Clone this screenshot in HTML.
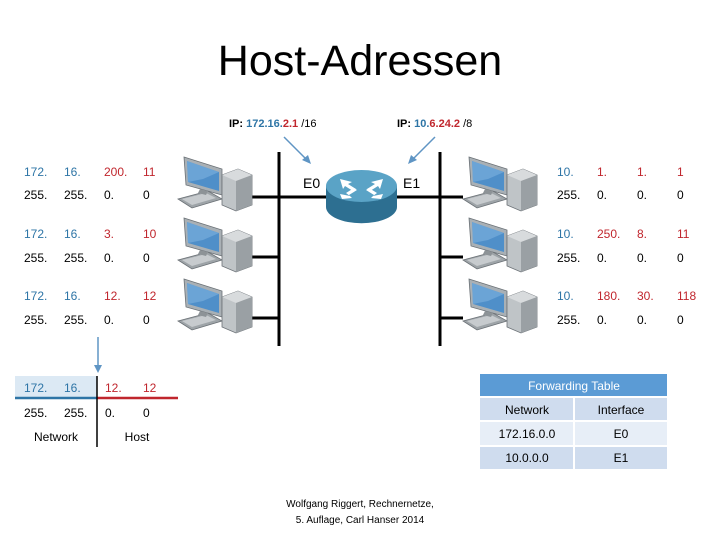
<!DOCTYPE html>
<html><head><meta charset="utf-8"><style>
body{margin:0;background:#fff;}
svg{display:block;font-family:"Liberation Sans",sans-serif;}
</style></head><body>
<svg width="720" height="540" viewBox="0 0 720 540" xmlns="http://www.w3.org/2000/svg">
<defs>
<g id="pc">
  <polygon points="0,44 30,36 44,44 14,53" fill="#9ea4a8" stroke="#6b7176" stroke-width="0.8"/>
  <polygon points="4,44 28,38 38,43 14,50" fill="#c7cbce"/>
  <polygon points="6,2 44,14 44,40 8,30" fill="#a9b0b5" stroke="#6b7176" stroke-width="0.8"/>
  <polygon points="9,6 41,17 41,36 10,27" fill="#4f8fc9"/>
  <polygon points="9,6 41,17 25,24 10,27" fill="#7fb3e0" opacity="0.6"/>
  <polygon points="22,34 30,36 28,40 20,38" fill="#8d9397"/>
  <polygon points="44,20 60,14 74,20 74,50 58,56 44,50" fill="#bfc4c7" stroke="#6b7176" stroke-width="0.8"/>
  <polygon points="44,20 60,14 74,20 58,26" fill="#d8dbdd"/>
  <polygon points="58,26 74,20 74,50 58,56" fill="#9aa0a4"/>
</g>
</defs>
<text x="360" y="75" text-anchor="middle" font-size="43" fill="#000">Host-Adressen</text>

<text x="229" y="127" font-size="11" font-weight="bold">IP: <tspan fill="#2e75a6">172.16.</tspan><tspan fill="#c0262d">2.1</tspan> <tspan font-weight="normal">/16</tspan></text>
<text x="397" y="127" font-size="11" font-weight="bold">IP: <tspan fill="#2e75a6">10.</tspan><tspan fill="#c0262d">6.24.2</tspan> <tspan font-weight="normal">/8</tspan></text>
<line x1="284" y1="137" x2="307" y2="160" stroke="#5f95c4" stroke-width="1.5"/>
<polygon points="311,164 302,160 308,155" fill="#5f95c4"/>
<line x1="435" y1="137" x2="412" y2="160" stroke="#5f95c4" stroke-width="1.5"/>
<polygon points="408,164 411,155 417,160" fill="#5f95c4"/>

<line x1="279" y1="152" x2="279" y2="346" stroke="#000" stroke-width="3"/>
<line x1="440" y1="152" x2="440" y2="346" stroke="#000" stroke-width="3"/>
<g stroke="#000" stroke-width="3">
<line x1="250" y1="197" x2="330" y2="197"/><line x1="395" y1="197" x2="463" y2="197"/>
<line x1="250" y1="257" x2="279" y2="257"/><line x1="250" y1="318" x2="279" y2="318"/>
<line x1="440" y1="257" x2="463" y2="257"/><line x1="440" y1="318" x2="463" y2="318"/>
</g>
<path d="M326,186 L326,207 A35,16 0 0 0 397,207 L397,186 Z" fill="#2d6f91"/>
<ellipse cx="361.5" cy="186" rx="35.5" ry="16" fill="#5aa3c6"/>
<g fill="#fff">
<polygon points="340,179 352,182 348,184 356,189 353,191 345,186 343,189"/>
<polygon points="383,179 371,182 375,184 367,189 370,191 378,186 380,189"/>
<polygon points="340,194 350,196 346,193 354,188 357,190 349,195 352,198 342,199"/>
<polygon points="383,194 373,196 377,193 369,188 366,190 374,195 371,198 381,199"/>
</g>
<text x="303" y="188" font-size="14">E0</text>
<text x="403" y="188" font-size="14">E1</text>

<use href="#pc" x="178" y="155"/><use href="#pc" x="178" y="216"/><use href="#pc" x="178" y="277"/>
<use href="#pc" x="463" y="155"/><use href="#pc" x="463" y="216"/><use href="#pc" x="463" y="277"/>

<g font-size="12">
<g fill="#2e75a6"><text x="24" y="176">172.</text><text x="64" y="176">16.</text>
<text x="24" y="238">172.</text><text x="64" y="238">16.</text>
<text x="24" y="300">172.</text><text x="64" y="300">16.</text>
<text x="557" y="176">10.</text><text x="557" y="238">10.</text><text x="557" y="300">10.</text></g>
<g fill="#c0262d"><text x="104" y="176">200.</text><text x="143" y="176">11</text>
<text x="104" y="238">3.</text><text x="143" y="238">10</text>
<text x="104" y="300">12.</text><text x="143" y="300">12</text>
<text x="597" y="176">1.</text><text x="637" y="176">1.</text><text x="677" y="176">1</text>
<text x="597" y="238">250.</text><text x="637" y="238">8.</text><text x="677" y="238">11</text>
<text x="597" y="300">180.</text><text x="637" y="300">30.</text><text x="677" y="300">118</text></g>
<g fill="#000"><text x="24" y="199">255.</text><text x="64" y="199">255.</text><text x="104" y="199">0.</text><text x="143" y="199">0</text>
<text x="24" y="262">255.</text><text x="64" y="262">255.</text><text x="104" y="262">0.</text><text x="143" y="262">0</text>
<text x="24" y="324">255.</text><text x="64" y="324">255.</text><text x="104" y="324">0.</text><text x="143" y="324">0</text>
<text x="557" y="199">255.</text><text x="597" y="199">0.</text><text x="637" y="199">0.</text><text x="677" y="199">0</text>
<text x="557" y="262">255.</text><text x="597" y="262">0.</text><text x="637" y="262">0.</text><text x="677" y="262">0</text>
<text x="557" y="324">255.</text><text x="597" y="324">0.</text><text x="637" y="324">0.</text><text x="677" y="324">0</text></g>
</g>

<line x1="98" y1="337" x2="98" y2="366" stroke="#5f95c4" stroke-width="1.5"/>
<polygon points="94,365 102,365 98,373" fill="#5f95c4"/>
<rect x="15" y="376" width="82" height="22" fill="#dce9f4"/>
<line x1="15" y1="398" x2="97" y2="398" stroke="#2e75a6" stroke-width="2.5"/>
<line x1="97" y1="398" x2="178" y2="398" stroke="#c0262d" stroke-width="2.5"/>
<line x1="97" y1="376" x2="97" y2="447" stroke="#000" stroke-width="1.5"/>
<g font-size="12">
<text x="24" y="392" fill="#2e75a6">172.</text><text x="64" y="392" fill="#2e75a6">16.</text>
<text x="105" y="392" fill="#c0262d">12.</text><text x="143" y="392" fill="#c0262d">12</text>
<text x="24" y="417">255.</text><text x="64" y="417">255.</text><text x="105" y="417">0.</text><text x="143" y="417">0</text>
<text x="56" y="441" text-anchor="middle">Network</text><text x="137" y="441" text-anchor="middle">Host</text>
</g>

<rect x="480" y="374" width="187" height="22" fill="#5b9bd5"/>
<rect x="480" y="398" width="93" height="22" fill="#cfdcee"/><rect x="575" y="398" width="92" height="22" fill="#cfdcee"/>
<rect x="480" y="422" width="93" height="23" fill="#e7eef7"/><rect x="575" y="422" width="92" height="23" fill="#e7eef7"/>
<rect x="480" y="447" width="93" height="22" fill="#cfdcee"/><rect x="575" y="447" width="92" height="22" fill="#cfdcee"/>
<g font-size="12" text-anchor="middle">
<text x="574" y="390" fill="#fff">Forwarding Table</text>
<text x="527" y="414">Network</text><text x="621" y="414">Interface</text>
<text x="527" y="438">172.16.0.0</text><text x="621" y="438">E0</text>
<text x="527" y="462">10.0.0.0</text><text x="621" y="462">E1</text>
</g>

<g font-size="10" text-anchor="middle">
<text x="360" y="507">Wolfgang Riggert, Rechnernetze,</text>
<text x="360" y="523">5. Auflage, Carl Hanser 2014</text>
</g>
</svg>
</body></html>
